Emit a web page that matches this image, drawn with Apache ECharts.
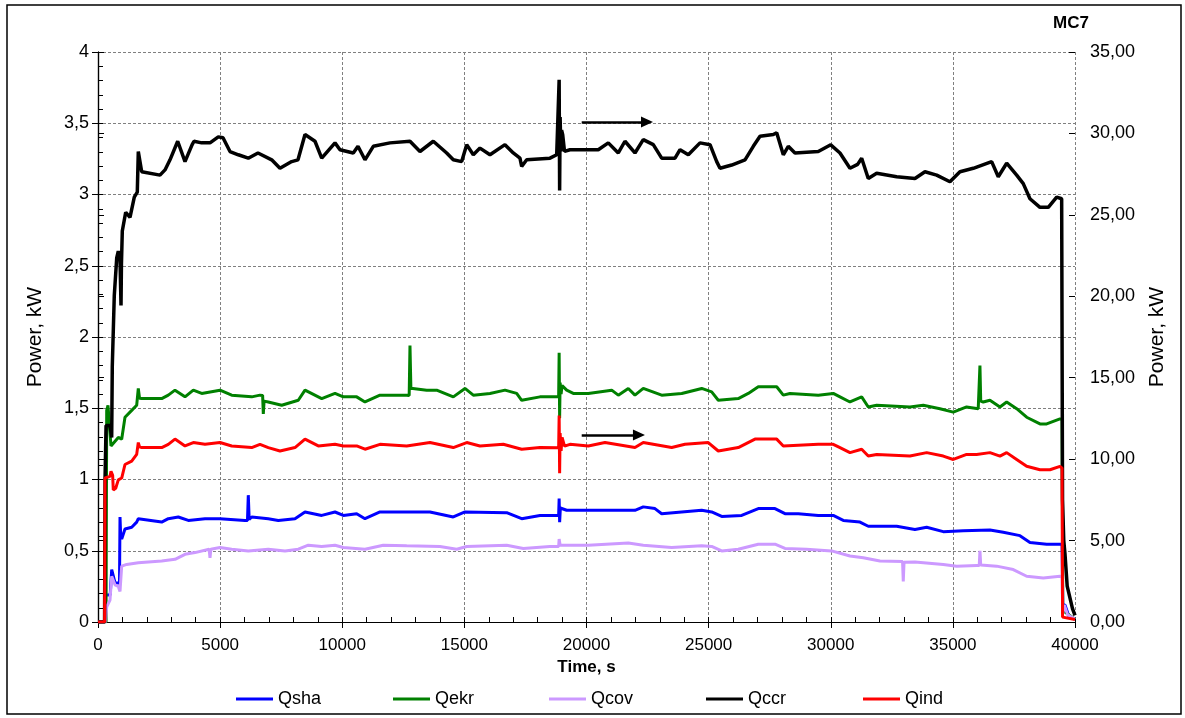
<!DOCTYPE html>
<html>
<head>
<meta charset="utf-8">
<script src="https://cdn.jsdelivr.net/npm/echarts@6/dist/echarts.min.js"></script>
<style>
html,body{margin:0;padding:0;background:#fff;}
#chart{width:1185px;height:718px;}
</style>
</head>
<body>
<div id="chart"></div>
<script>
// ---- data (time in s, power in kW) ----
const seriesNames = ['Qsha', 'Qekr', 'Qcov', 'Qccr', 'Qind'];
const leftTicks = [0, 0.5, 1, 1.5, 2, 2.5, 3, 3.5, 4];
const rightTicks = [0, 5, 10, 15, 20, 25, 30, 35];
const timeTicks = [0, 5000, 10000, 15000, 20000, 25000, 30000, 35000, 40000];

const qsha = [[0,0],[280,0],[287,0.19],[500,0.19],[561,0.368],[626,0.356],[700,0.273],[880,0.273],[901,0.737],[930,0.60],[970,0.582],[1105,0.653],[1380,0.665],[1584,0.701],[1650,0.725],[2608,0.701],[2878,0.725],[3287,0.737],[3697,0.713],[4381,0.725],[4995,0.725],[6018,0.713],[6120,0.713],[6153,0.89],[6190,0.72],[6293,0.737],[6972,0.725],[7381,0.713],[8065,0.725],[8475,0.772],[9158,0.748],[9703,0.772],[10043,0.748],[10591,0.760],[10931,0.725],[11545,0.772],[13592,0.772],[14546,0.737],[15025,0.772],[16732,0.767],[17346,0.725],[18095,0.748],[18860,0.748],[18880,0.867],[18900,0.70],[18930,0.80],[19188,0.784],[20073,0.784],[21984,0.784],[22324,0.808],[22803,0.796],[23078,0.760],[23897,0.772],[24716,0.784],[25125,0.772],[25535,0.741],[26353,0.748],[27033,0.796],[27717,0.796],[28126,0.760],[28671,0.760],[29489,0.748],[30103,0.748],[30513,0.713],[31196,0.701],[31536,0.672],[32699,0.672],[33448,0.649],[33927,0.665],[34607,0.634],[35426,0.641],[36518,0.646],[37063,0.630],[37747,0.606],[38156,0.558],[38840,0.546],[39470,0.546],[39500,0.12],[39589,0.12],[39750,0.04],[40000,0.02]];

const qekr = [[0,0],[330,0],[356,1.485],[409,1.52],[470,1.52],[532,1.235],[831,1.295],[970,1.283],[1105,1.437],[1380,1.485],[1584,1.521],[1630,1.52],[1650,1.639],[1700,1.57],[1789,1.568],[2608,1.568],[2878,1.592],[3152,1.627],[3562,1.580],[3902,1.627],[4245,1.604],[4995,1.627],[5474,1.592],[6293,1.580],[6632,1.592],[6740,1.59],[6768,1.46],[6800,1.55],[6972,1.544],[7521,1.521],[8200,1.556],[8475,1.627],[9159,1.568],[9703,1.604],[10043,1.580],[10591,1.580],[10931,1.544],[11545,1.592],[12638,1.592],[12740,1.59],[12773,1.94],[12810,1.64],[13457,1.627],[13866,1.627],[14546,1.580],[15025,1.639],[15365,1.592],[16048,1.604],[16662,1.627],[17141,1.604],[17346,1.556],[18095,1.580],[18860,1.58],[18880,1.89],[18900,1.43],[18920,1.68],[18960,1.60],[19000,1.66],[19188,1.627],[19459,1.604],[20073,1.604],[21031,1.627],[21301,1.592],[21711,1.639],[21984,1.592],[22324,1.639],[23078,1.592],[23897,1.604],[24716,1.639],[25125,1.615],[25395,1.556],[26214,1.568],[26623,1.604],[27033,1.651],[27787,1.651],[28057,1.592],[28331,1.604],[29489,1.592],[30103,1.604],[30378,1.580],[30787,1.544],[31266,1.580],[31536,1.509],[31880,1.521],[33243,1.509],[33788,1.521],[34471,1.497],[35016,1.473],[35563,1.509],[36038,1.497],[36080,1.50],[36108,1.80],[36140,1.55],[36243,1.544],[36518,1.556],[36927,1.509],[37202,1.544],[37612,1.497],[38021,1.437],[38566,1.390],[38840,1.390],[39385,1.425],[39470,1.42],[39500,0.08],[40000,0.02]];

const qcov = [[0,0],[300,0],[356,0.107],[491,0.154],[561,0.321],[696,0.261],[831,0.249],[901,0.214],[970,0.392],[1175,0.404],[1650,0.416],[2608,0.428],[3152,0.440],[3562,0.475],[3971,0.487],[4550,0.511],[4585,0.45],[4620,0.51],[4995,0.523],[5474,0.511],[6153,0.499],[6972,0.511],[7656,0.499],[8200,0.511],[8610,0.539],[9158,0.530],[9703,0.539],[10043,0.523],[10931,0.511],[11680,0.539],[12638,0.535],[14001,0.530],[14685,0.511],[15095,0.530],[16732,0.539],[17412,0.516],[18500,0.530],[18860,0.53],[18880,0.582],[18920,0.54],[19324,0.539],[20073,0.539],[21711,0.554],[22324,0.539],[23487,0.523],[24716,0.535],[25125,0.530],[25535,0.499],[26214,0.511],[27033,0.546],[27717,0.546],[28126,0.516],[29000,0.511],[30037,0.499],[30787,0.463],[31332,0.451],[32015,0.428],[32940,0.425],[32969,0.285],[33000,0.42],[33448,0.421],[34607,0.404],[35156,0.392],[35972,0.397],[36080,0.397],[36108,0.499],[36140,0.40],[36792,0.392],[37472,0.368],[38021,0.321],[38700,0.309],[39385,0.321],[39470,0.32],[39500,0.06],[39560,0.12],[39700,0.05],[40000,0.02]];

const qccr = [[0,0],[270,0],[290,8.9],[330,12.06],[491,12.06],[560,11.33],[585,15.70],[667,20.06],[766,22.35],[831,22.77],[900,22.4],[942,19.43],[960,22.0],[995,24.01],[1134,25.16],[1310,24.84],[1486,26.09],[1609,26.40],[1650,28.89],[1789,27.65],[2538,27.44],[2743,27.76],[2948,28.38],[3263,29.52],[3562,28.27],[3850,29.3],[3930,29.52],[4245,29.42],[4585,29.42],[4925,29.79],[5118,29.73],[5404,28.89],[5744,28.69],[6153,28.48],[6550,28.80],[7111,28.38],[7450,27.86],[7930,28.27],[8188,28.38],[8475,29.93],[8884,29.52],[9159,28.48],[9703,29.42],[9907,29.0],[10452,28.8],[10644,29.21],[10931,28.38],[11271,29.21],[11954,29.42],[12773,29.52],[13182,28.89],[13727,29.52],[14276,28.80],[14546,28.38],[14890,28.27],[15095,29.31],[15365,28.69],[15639,29.10],[16048,28.69],[16662,29.31],[17002,28.80],[17276,28.48],[17346,27.97],[17551,28.38],[18505,28.48],[18780,28.69],[18860,28.7],[18880,33.3],[18900,26.5],[18920,31.0],[18950,28.9],[18980,30.2],[19025,29.93],[19100,28.9],[19324,29.0],[19938,29.0],[20482,29.0],[20892,29.42],[21301,28.8],[21575,29.52],[21984,28.8],[22324,29.62],[22734,29.31],[23078,28.48],[23624,28.48],[23829,29.0],[24169,28.69],[24647,29.42],[25057,29.31],[25331,28.27],[25466,27.86],[25945,28.06],[26490,28.38],[26829,29.21],[27103,29.83],[27648,29.93],[27787,30.04],[28057,28.69],[28261,29.21],[28535,28.8],[29489,28.89],[30000,29.3],[30378,28.8],[30787,27.86],[31100,28.1],[31266,28.48],[31536,27.23],[31880,27.55],[32699,27.34],[33448,27.23],[33857,27.65],[34336,27.44],[34881,27.03],[35290,27.65],[35835,27.86],[36588,28.27],[36858,27.34],[37202,28.17],[37612,27.44],[37882,26.92],[38156,25.99],[38566,25.46],[38906,25.46],[39250,26.09],[39454,25.99],[39490,7.5],[39540,5.0],[39589,4.2],[39680,2.2],[39900,0.8],[40000,0.4]];

const qind = [[0,0],[270,0],[287,8.84],[491,8.94],[532,9.25],[600,9.0],[626,8.11],[725,8.21],[831,8.73],[970,8.84],[1105,9.67],[1380,9.88],[1584,10.29],[1630,10.3],[1650,11.02],[1700,10.75],[1789,10.71],[2608,10.71],[2878,10.91],[3152,11.23],[3562,10.81],[3902,11.02],[4381,10.91],[4995,11.02],[5474,10.81],[6293,10.71],[6632,10.91],[6972,10.71],[7451,10.50],[8065,10.71],[8475,11.23],[9019,10.81],[9703,10.91],[10043,10.81],[10591,10.81],[10931,10.61],[11545,10.91],[12638,10.81],[13592,11.02],[14546,10.71],[15095,11.02],[15639,10.81],[16593,10.91],[17346,10.61],[18095,10.71],[18860,10.7],[18880,12.68],[18900,9.14],[18920,11.6],[18960,10.5],[19000,11.33],[19100,10.8],[19324,10.91],[20073,10.81],[20757,11.02],[21984,10.71],[22324,11.02],[23487,10.71],[24032,10.91],[24986,11.02],[25395,10.50],[26214,10.71],[26898,11.23],[27787,11.23],[28057,10.81],[29489,10.91],[30103,10.91],[30378,10.71],[30787,10.40],[31266,10.61],[31536,10.19],[31880,10.29],[33243,10.19],[33927,10.40],[34607,10.19],[35016,9.98],[35563,10.29],[35972,10.29],[36518,10.40],[36927,10.19],[37202,10.40],[37612,9.98],[38021,9.56],[38566,9.35],[38975,9.35],[39385,9.56],[39470,9.45],[39490,0.3],[40000,0.15]];

// annotation arrows (right axis, kW)
const arrowQccr = [[19804, 30.7], [22476, 30.7]];
const arrowQind = [[19804, 11.48], [22148, 11.48]];

// ---- chart ----
const FONT = "'Liberation Sans', Arial, sans-serif";
const comma = s => String(s).replace('.', ',');
const chart = echarts.init(document.getElementById('chart'), null, {renderer: 'canvas'});

const axisLineStyle = {color: '#000', width: 1.2};
const gridDash = {color: '#808080', width: 1, type: [3, 2]};

function arrowMark(pts) {
  return {
    silent: true,
    animation: false,
    symbol: ['none', 'triangle'],
    symbolSize: [11, 12],
    label: {show: false},
    emphasis: {disabled: true},
    lineStyle: {color: '#000', width: 2.5, type: 'solid'},
    itemStyle: {color: '#000'},
    data: [[{coord: pts[0]}, {coord: pts[1]}]]
  };
}

const legends = seriesNames.map((n, i) => ({
  data: [n],
  left: 231 + Math.round(156.7 * i),
  top: 685,
  icon: 'rect', itemWidth: 37, itemHeight: 3, itemGap: 0,
  textStyle: {fontFamily: FONT, fontSize: 18, color: '#000'},
  selectedMode: false
}));

const option = {
  animation: false,
  backgroundColor: '#fff',
  textStyle: {fontFamily: FONT},
  title: {
    text: 'MC7', left: 1048, top: 10,
    textStyle: {fontFamily: FONT, fontSize: 17, fontWeight: 'bold', color: '#000'}
  },
  grid: {left: 98, right: 110, top: 52, bottom: 96, containLabel: false},
  legend: legends,
  xAxis: [
    {
      type: 'value', min: 0, max: 40000, interval: 5000, position: 'bottom',
      name: 'Time, s', nameLocation: 'middle', nameGap: 36,
      nameTextStyle: {fontFamily: FONT, fontSize: 17, fontWeight: 'bold', color: '#000'},
      axisLine: {show: true, lineStyle: axisLineStyle},
      axisTick: {show: true, inside: false, length: 6, lineStyle: {color: '#000'}},
      axisLabel: {fontFamily: FONT, fontSize: 17, color: '#000', margin: 15,
        formatter: v => timeTicks.indexOf(v) >= 0 ? String(v) : ''},
      splitLine: {show: true, lineStyle: gridDash}
    },
    {
      type: 'value', min: 0, max: 40000, interval: 1000, position: 'bottom',
      axisLine: {show: false},
      axisTick: {show: true, inside: true, length: 5, lineStyle: {color: '#000'}},
      axisLabel: {show: false},
      splitLine: {show: false}
    }
  ],
  yAxis: [
    {
      type: 'value', min: 0, max: 4, interval: 0.5, position: 'left',
      name: 'Power, kW', nameLocation: 'middle', nameGap: 52,
      nameTextStyle: {fontFamily: FONT, fontSize: 21, color: '#000'},
      axisLine: {show: true, lineStyle: axisLineStyle},
      axisTick: {show: true, inside: false, length: 6, lineStyle: {color: '#000'}},
      axisLabel: {fontFamily: FONT, fontSize: 18, color: '#000', margin: 9,
        formatter: v => leftTicks.indexOf(v) >= 0 ? comma(v) : ''},
      splitLine: {show: true, lineStyle: gridDash}
    },
    {
      type: 'value', min: 0, max: 35, interval: 5, position: 'right',
      name: 'Power, kW', nameLocation: 'middle', nameGap: 72,
      nameTextStyle: {fontFamily: FONT, fontSize: 21, color: '#000'},
      axisLine: {show: true, lineStyle: axisLineStyle},
      axisTick: {show: true, inside: false, length: 6, lineStyle: {color: '#000'}},
      axisLabel: {fontFamily: FONT, fontSize: 18, color: '#000', margin: 15,
        formatter: v => rightTicks.indexOf(v) >= 0 ? comma(v.toFixed(2)) : ''},
      splitLine: {show: false}
    },
    {
      type: 'value', min: 0, max: 4, interval: 0.1, position: 'left',
      axisLine: {show: false},
      axisTick: {show: true, inside: true, length: 5, lineStyle: {color: '#000'}},
      axisLabel: {show: false},
      splitLine: {show: false}
    },
    {
      type: 'value', min: 0, max: 35, interval: 5, position: 'right',
      axisLine: {show: false},
      axisTick: {show: true, inside: true, length: 6, lineStyle: {color: '#000'}},
      axisLabel: {show: false},
      splitLine: {show: false}
    }
  ],
  series: [
    {name: 'Qsha', type: 'line', yAxisIndex: 0, data: qsha, showSymbol: false, symbol: 'none',
     color: '#0000FF', lineStyle: {color: '#0000FF', width: 3}},
    {name: 'Qekr', type: 'line', yAxisIndex: 0, data: qekr, showSymbol: false, symbol: 'none',
     color: '#008000', lineStyle: {color: '#008000', width: 3}},
    {name: 'Qcov', type: 'line', yAxisIndex: 0, data: qcov, showSymbol: false, symbol: 'none',
     color: '#CC99FF', lineStyle: {color: '#CC99FF', width: 3}},
    {name: 'Qccr', type: 'line', yAxisIndex: 1, data: qccr, showSymbol: false, symbol: 'none',
     color: '#000000', lineStyle: {color: '#000000', width: 3.5}, markLine: arrowMark(arrowQccr)},
    {name: 'Qind', type: 'line', yAxisIndex: 1, data: qind, showSymbol: false, symbol: 'none',
     color: '#FF0000', lineStyle: {color: '#FF0000', width: 3}, markLine: arrowMark(arrowQind)}
  ],
  graphic: [
    {type: 'rect', silent: true, z: 100,
     shape: {x: 7, y: 5, width: 1174, height: 709},
     style: {fill: 'none', stroke: '#000', lineWidth: 1.5}}
  ]
};
chart.setOption(option);
</script>
</body>
</html>
